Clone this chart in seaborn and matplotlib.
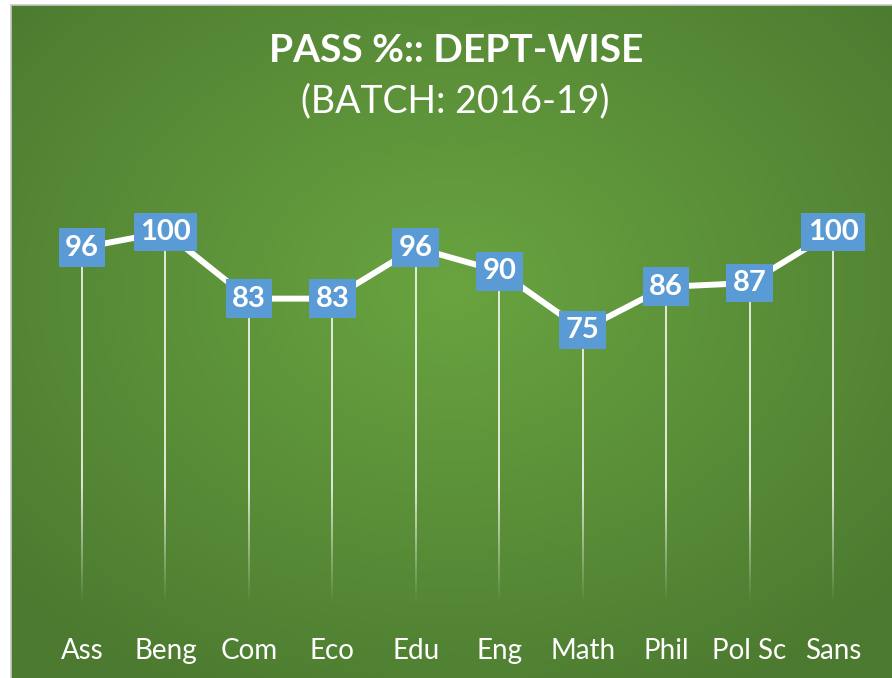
import numpy as np
import pandas as pd
import matplotlib
matplotlib.use("Agg")
import matplotlib.pyplot as plt
from matplotlib.collections import LineCollection
import seaborn as sns

departments = ["Ass", "Beng", "Com", "Eco", "Edu", "Eng", "Math", "Phil", "Pol Sc", "Sans"]
pass_pct = [96, 100, 83, 83, 96, 90, 75, 86, 87, 100]
title_main = "PASS %:: DEPT-WISE"
title_sub = "(BATCH: 2016-19)"

sns.set_theme(style="white")
plt.rcParams["font.family"] = ["Lato", "DejaVu Sans"]

W, H = 892, 678
fig = plt.figure(figsize=(W / 100, H / 100), dpi=100, facecolor="white")

# background radial gradient panel
bg = fig.add_axes([11 / W, 0, (W - 11) / W, (H - 5) / H])
ny, nx = 300, 400
yy, xx = np.mgrid[0:ny, 0:nx]
cx, cy = nx * 0.50, ny * 0.42
r = np.sqrt(((xx - cx) / nx) ** 2 + ((yy - cy) / ny) ** 2) / 0.68
r = np.clip(r, 0, 1)
c_in = np.array([0x69, 0xa4, 0x40]) / 255
c_out = np.array([0x4c, 0x7a, 0x30]) / 255
img = c_in[None, None, :] * (1 - r[..., None]) + c_out[None, None, :] * r[..., None]
bg.imshow(img, aspect="auto", extent=[0, 1, 0, 1], origin="upper")
bg.set_axis_off()
# thin grey border on top/left
fig.add_artist(plt.Line2D([10.5 / W, 10.5 / W], [0, (H - 4.5) / H], color="#c8c8c8", lw=1.2))
fig.add_artist(plt.Line2D([10.5 / W, 1], [(H - 4.5) / H, (H - 4.5) / H], color="#c8c8c8", lw=1.2))

# main axes
ax_left, ax_right = 40.3, 874.7
y0_px, px_per_unit = 624, 3.92
ymax = 120
ax = fig.add_axes([ax_left / W, (H - y0_px) / H, (ax_right - ax_left) / W, ymax * px_per_unit / H])
ax.set_facecolor("none")
ax.patch.set_alpha(0)

df = pd.DataFrame({"dept": departments, "pct": pass_pct})

# drop lines with fade toward bottom
segs, cols = [], []
for i, v in enumerate(pass_pct):
    ys = np.linspace(0, v, 120)
    for a, b in zip(ys[:-1], ys[1:]):
        segs.append([(i, a), (i, b)])
        alpha = np.clip((a - 5) / 30, 0, 1) * 0.95
        cols.append((1, 1, 1, alpha))
ax.add_collection(LineCollection(segs, colors=cols, linewidths=1.2, zorder=1))

sns.lineplot(data=df, x="dept", y="pct", ax=ax, color="white", lw=4.3, sort=False, zorder=2)

for i, v in enumerate(pass_pct):
    ax.text(i, v, str(v), ha="center", va="center", color="white", fontsize=21,
            fontweight="bold", zorder=3,
            bbox=dict(boxstyle="square,pad=0.22", fc="#5b9bd5", ec="none"))

ax.set_xlim(-0.5, len(departments) - 0.5)
ax.set_ylim(0, ymax)
ax.set_xlabel("")
ax.set_ylabel("")
ax.set_yticks([])
ax.set_xticks(range(len(departments)))
ax.set_xticklabels(departments, color="white", fontsize=20)
ax.tick_params(axis="x", length=0, pad=10)
for s in ax.spines.values():
    s.set_visible(False)

fig.text(456 / W, 1 - 50 / H, title_main, ha="center", va="center", color="white",
         fontsize=28, fontweight="bold")
fig.text(455 / W, 1 - 101 / H, title_sub, ha="center", va="center", color="white",
         fontsize=27)

fig.savefig("out.png", dpi=100, facecolor="white")
